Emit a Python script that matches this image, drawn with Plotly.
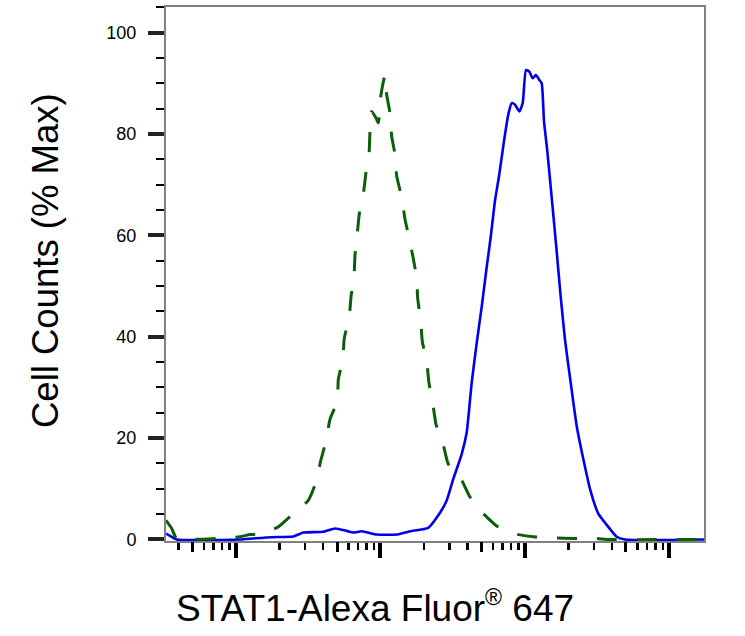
import plotly.graph_objects as go

# STAT1-Alexa Fluor 647 intensity (linear units) and % max counts
blue_fl = [32.8, 34.9, 38.9, 106.6, 131.8, 176.7, 249.2, 292.3, 402, 484.3, 583.6, 648.3,
           741.3, 941.3, 1294.6, 1600, 2142, 2512, 2872, 3190, 3647, 3949, 4277, 4632,
           5017, 5433, 5789, 6200, 6640, 7155, 7662, 8091, 8527, 9134, 9641, 10160,
           10710, 11310, 11920, 12560, 13050, 13540, 14270, 15300, 16390, 17670, 18920,
           20720, 22790, 25330, 28170, 32160, 37710, 43110, 49200, 173300]
blue_pct = [1.18, 0.73, 0.0, 0.0, 0.2, 0.45, 0.59, 1.37, 1.51, 2.16, 1.70, 1.37,
            1.63, 0.98, 0.98, 1.63, 2.29, 4.76, 7.70, 11.95, 16.85, 21.11, 30.90, 38.74,
            45.91, 53.75, 59.63, 66.82, 72.06, 78.58, 83.81, 86.09, 85.77, 84.46, 86.09, 92.63,
            92.30, 90.99, 91.65, 90.67, 90.01, 82.50, 76.62, 67.47, 58.34, 47.87, 39.39,
            30.90, 22.40, 15.87, 9.99, 5.10, 2.49, 0.53, 0.0, 0.0]

green_fl = [32.8, 35.9, 38.9, 73.5, 106.6, 125, 142, 196.2, 249.2, 316.5, 357.7, 385.8,
            419.6, 447.2, 502.3, 510.5, 547.5, 561.7, 608.2, 624.9, 655.5, 666, 690.9,
            713.3, 760.3, 793.8, 832.6, 846, 869.3, 930.9, 965.6, 1008, 1074, 1104, 1163,
            1195, 1260, 1294.6, 1402, 1477, 1582, 1687, 1781, 1809, 1897, 1947, 2088, 2165,
            2297, 2422, 2695, 2946, 3510, 4163, 4961, 6372, 8299, 11410, 15700, 22180,
            30510, 38740, 173300]
green_pct = [3.78, 2.16, 0.2, 0.2, 0.53, 0.98, 0.98, 2.49, 5.10, 7.70, 11.31, 15.54,
             19.46, 23.71, 27.30, 31.55, 35.47, 39.72, 43.95, 47.87, 51.79, 56.04, 60.30,
             64.22, 68.14, 72.37, 75.98, 80.54, 84.46, 83.15, 82.17, 87.73, 91.65, 87.73, 84.13,
             79.56, 75.98, 71.72, 67.47, 63.24, 59.32, 55.40, 51.48, 47.56, 43.31, 39.06, 35.14, 30.90,
             26.98, 22.73, 19.15, 14.89, 12.60, 8.37, 5.55, 2.68, 1.18, 0.53, 0.33, 0.2,
             0.2, 0.0, 0.0]

decades = [100, 1000, 10000, 100000]
fives = [50, 500, 5000, 50000]
minors = [40, 60, 70, 80, 90] + [m * d for d in [100, 1000, 10000] for m in [2, 3, 4, 6, 7, 8, 9]]
y_major = [0, 20, 40, 60, 80, 100]

x_title = "STAT1-Alexa Fluor<sup><span style='font-size:23px'>®</span></sup> 647"
y_title = "Cell Counts (% Max)"

FONT = "Liberation Sans, Arial, sans-serif"
xr = [1.5156, 5.2388]

blue = go.Scatter(x=blue_fl, y=blue_pct, mode="lines",
                  line=dict(color="#0000ee", width=2.6, shape="spline", smoothing=0.5),
                  hoverinfo="skip")
green = go.Scatter(x=green_fl, y=green_pct, mode="lines", xaxis="x2",
                   line=dict(color="#0b5e0b", width=3, dash="20px,20px",
                             shape="spline", smoothing=0.5),
                   hoverinfo="skip")

layout = go.Layout(
    width=745, height=636, autosize=False,
    margin=dict(l=166, r=41, t=5, b=95),
    plot_bgcolor="white", paper_bgcolor="white",
    showlegend=False,
    font=dict(family=FONT, color="black"),
    xaxis=dict(type="log", range=xr, showgrid=False, zeroline=False,
               showline=True, linecolor="#808080", linewidth=2, mirror=True,
               ticks="outside", tickmode="array", tickvals=decades,
               ticklen=15, tickwidth=4, tickcolor="black", showticklabels=False,
               layer="below traces",
               minor=dict(tickmode="array", tickvals=minors, ticks="outside",
                          ticklen=7, tickwidth=2.5, tickcolor="black", showgrid=False)),
    xaxis2=dict(type="log", range=xr, overlaying="x", anchor="y", side="bottom",
                showgrid=False, zeroline=False, showline=False,
                ticks="outside", tickmode="array", tickvals=fives,
                ticklen=10, tickwidth=3, tickcolor="black", showticklabels=False,
                layer="below traces"),
    yaxis=dict(range=[-0.3, 105.05], showgrid=False, zeroline=False,
               showline=True, linecolor="#808080", linewidth=2, mirror=True,
               ticks="outside", tickmode="array", tickvals=y_major,
               ticklen=16, tickwidth=4, tickcolor="#222", ticklabelstandoff=8,
               tickfont=dict(family=FONT, size=18, color="black"),
               layer="below traces",
               minor=dict(tick0=0, dtick=5, ticks="outside", ticklen=8,
                          tickwidth=2, tickcolor="black", showgrid=False)),
    annotations=[
        dict(text=x_title, xref="paper", yref="paper", x=0.388, y=-0.123,
             xanchor="center", yanchor="middle", showarrow=False,
             font=dict(family=FONT, size=37, color="black")),
        dict(text=y_title, xref="paper", yref="paper", x=-0.2249, y=0.5243,
             xanchor="center", yanchor="middle", textangle=-90, showarrow=False,
             font=dict(family=FONT, size=36.5, color="black")),
    ],
)

fig = go.Figure(data=[blue, green], layout=layout)
# drop the browser's default 8px page margin so the figure sits at the window corner
fig.write_html("out.html", config={"displayModeBar": False, "staticPlot": True},
               post_script="document.body.style.margin='0';")
